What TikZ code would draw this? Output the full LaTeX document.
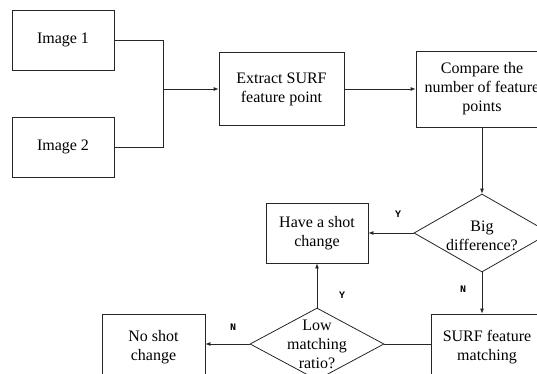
\documentclass[tikz,border=0pt]{standalone}
\usepackage{fontspec}
\setmainfont{Liberation Serif}
\setmonofont{Liberation Mono}
\usetikzlibrary{arrows.meta,shapes.geometric}
\begin{document}
\begin{tikzpicture}[x=1pt,y=-1pt,
  box/.style={draw=black!85, line width=0.8pt, inner sep=0pt, align=center,
    font=\fontsize{16}{19}\selectfont},
  dia/.style={draw=black!85, line width=0.8pt, shape=diamond, inner sep=0pt},
  txt/.style={align=center, inner sep=0pt, font=\fontsize{16}{19}\selectfont},
  lab/.style={inner sep=0pt, font=\ttfamily\bfseries\fontsize{10}{12}\selectfont},
  line/.style={draw=black!85, line width=0.8pt},
  arr/.style={line, -{Latex[length=5pt,width=4pt]}}]
\useasboundingbox (0,0) rectangle (537,374);
\clip (0,0) rectangle (537,374);
% boxes
\node[box, minimum width=102, minimum height=60] (img1) at (63,40) {Image 1};
\node[box, minimum width=102, minimum height=60] (img2) at (63,147) {Image 2};
\node[box, minimum width=125, minimum height=73] (extract) at (281.5,89) {Extract SURF\\feature point};
\node[box, minimum width=132, minimum height=76] (compare) at (482,89) {Compare the\\number of feature\\points};
\node[dia, minimum width=136, minimum height=78] (big) at (482,233) {};
\node[txt] (bigt) at (482,236) {Big\\difference?};
\node[box, minimum width=102, minimum height=60] (have) at (317,233) {Have a shot\\change};
\node[box, minimum width=112, minimum height=66] (surf) at (487,347) {SURF feature\\matching};
\node[dia, minimum width=134, minimum height=72] (low) at (317,344) {};
\node[txt] (lowt) at (317,344) {Low\\matching\\ratio?};
\node[box, minimum width=103, minimum height=66] (noshot) at (153.5,347) {No shot\\change};
% connectors
\coordinate (j1) at (163,40);
\coordinate (j2) at (163,147);
\coordinate (jm) at (163,89);
\draw[line] (img1.east) -- (j1) -- (j2) -- (img2.east);
\draw[arr] (jm) -- (extract.west);
\draw[arr] (extract.east) -- (compare.west);
\draw[arr] (compare.south) -- (big.north);
\draw[arr] (big.west) -- (have.east);
\draw[arr] (big.south) -- (surf.north -| big.south);
\draw[line] (surf.west |- low.east) -- (low.east);
\draw[arr] (low.north) -- (have.south);
\draw[arr] (low.west) -- (noshot.east |- low.west);
% labels
\node[lab] (ly1) at (398,214) {Y};
\node[lab] (ln1) at (463,289) {N};
\node[lab] (ly2) at (342,295) {Y};
\node[lab] (ln2) at (233,327) {N};
\end{tikzpicture}
\end{document}
